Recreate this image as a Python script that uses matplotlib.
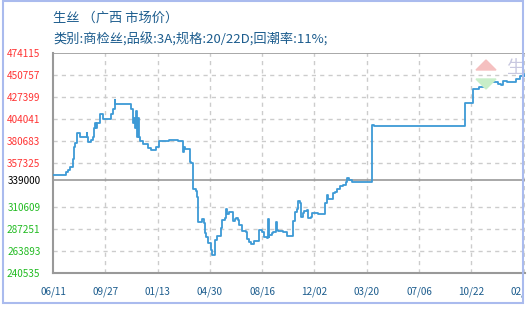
import matplotlib
matplotlib.use("Agg")
import matplotlib.pyplot as plt
from matplotlib.patches import Rectangle, Polygon
from matplotlib.transforms import Bbox, TransformedBbox

plt.rcParams['font.family'] = ['Noto Sans CJK SC', 'DejaVu Sans']

# chart data: days since 06/11 (first tick) and price
days = [0, 27, 31, 35, 42, 43, 45, 50, 56, 70,
        71, 73, 79, 82, 85, 87, 89, 90, 98, 104,
        120, 123, 128, 129, 162, 165, 168, 170, 172, 173,
        176, 178, 180, 186, 193, 197, 202, 212, 219, 240,
        258, 268, 269, 271, 273, 283, 286, 290, 295, 298,
        299, 304, 307, 312, 314, 317, 321, 326, 328, 334,
        339, 348, 350, 355, 357, 360, 364, 371, 376, 379,
        383, 385, 391, 398, 401, 405, 408, 416, 426, 432,
        436, 443, 445, 446, 447, 452, 455, 460, 462, 465,
        472, 476, 484, 496, 500, 503, 507, 510, 512, 516,
        518, 524, 527, 532, 535, 541, 548, 562, 565, 569,
        578, 582, 587, 593, 599, 605, 607, 611, 617, 659,
        664, 851, 867, 880, 893, 902, 920, 925, 930, 937,
        947, 957, 964, 975]
prices = [344300, 347500, 349900, 353400, 361300, 374000, 378900, 388900, 384600, 388900,
          384600, 379300, 381700, 384600, 394800, 399500, 394500, 399500, 409000, 403700,
          409000, 414300, 423900, 419700, 414300, 399500, 405100, 394500, 412900, 385300,
          404800, 385300, 381000, 377800, 377200, 372900, 371400, 374600, 380700, 381700,
          380700, 374000, 369300, 374000, 371900, 358700, 357000, 329400, 327600, 321500,
          295000, 294400, 297600, 293300, 282700, 279100, 272700, 265000, 259700, 275600,
          280100, 288600, 296800, 298600, 308500, 302900, 305600, 296100, 297900, 298600,
          296800, 291500, 285100, 284400, 276600, 273800, 271000, 274800, 286200, 284400,
          278400, 278000, 297600, 278800, 280900, 282700, 284400, 295000, 286200, 285100,
          285400, 284400, 279800, 296100, 305000, 308200, 317300, 314500, 300300, 304600,
          306700, 307400, 298600, 299700, 304600, 303900, 302900, 314500, 323400, 319100,
          325200, 326900, 329700, 333200, 334000, 337500, 341100, 339300, 336800, 397700,
          396900, 420700, 435600, 438300, 443600, 443000, 441700, 440100, 444900, 443600,
          443600, 446300, 450200, 451300]

y_ticks = [474115, 450757, 427399, 404041, 380683, 357325, 339000, 310609,
           287251, 263893, 240535]
x_labels = ['06/11', '09/27', '01/13', '04/30', '08/16', '12/02', '03/20',
            '07/06', '10/22', '02/07']
base_price = 339000

title1 = '生丝 （广西 市场价）'
title2 = '类别:商检丝;品级:3A;规格:20/22D;回潮率:11%;'

W, H = 530, 309
fig = plt.figure(figsize=(W / 100, H / 100), dpi=100)
ax = fig.add_axes([53 / W, 36 / H, 472 / W, 220 / H])

ax.plot(days, prices, drawstyle='steps-post', color='#3d9ad6', lw=1.3, zorder=3)

ax.set_xlim(0, 975)
ax.set_ylim(y_ticks[-1], y_ticks[0])
x_pos = [i * 108 for i in range(len(x_labels))]
ax.set_xticks(x_pos)
ax.set_xticklabels(x_labels)
ax.set_yticks(y_ticks)
ax.set_yticklabels([str(v) for v in y_ticks])

for v, lbl in zip(y_ticks, ax.get_yticklabels()):
    if v > base_price:
        lbl.set_color('#ff3333')
    elif v == base_price:
        lbl.set_color('black')
    else:
        lbl.set_color('#22bb22')
for lbl in ax.get_xticklabels():
    lbl.set_color('#1d5d8e')

ax.tick_params(axis='both', length=0, labelsize=7.2)
ax.tick_params(axis='y', pad=9)
ax.tick_params(axis='x', pad=10)

# grid
for v in y_ticks[1:]:
    if v == base_price:
        ax.axhline(v, color='#999999', lw=1.2, zorder=2)
    else:
        ax.axhline(v, color='#cccccc', lw=1, ls=(0, (3, 3)), zorder=1)
ax.axhline(y_ticks[0], color='#999999', lw=1.2, zorder=2)
for p in x_pos[1:]:
    ax.axvline(p, color='#cccccc', lw=1, ls=(0, (3, 3)), zorder=1)

for s in ['top', 'right']:
    ax.spines[s].set_visible(False)
for s in ['left', 'bottom']:
    ax.spines[s].set_color('#999999')
    ax.spines[s].set_linewidth(1.5)

# clip last x label at the frame
clip = TransformedBbox(Bbox([[0, 0], [523 / W, 1]]), fig.transFigure)
for lbl in ax.get_xticklabels():
    lbl.set_clip_box(clip)
    lbl.set_clip_on(True)

# titles
fig.text(53 / W, 1 - 18 / H, title1, color='#1d5d8e', fontsize=9.5, va='center')
fig.text(53 / W, 1 - 40 / H, title2, color='#1d5d8e', fontsize=9.5, va='center')

# faint watermark
fig.patches.append(Polygon([[476 / W, 1 - 70 / H], [496 / W, 1 - 70 / H], [486 / W, 1 - 60 / H]],
                           closed=True, transform=fig.transFigure, color='#f5c0c0', zorder=0))
fig.patches.append(Polygon([[476 / W, 1 - 79 / H], [496 / W, 1 - 79 / H], [486 / W, 1 - 89 / H]],
                           closed=True, transform=fig.transFigure, color='#c8eec8', zorder=0))
fig.text(506 / W, 1 - 68 / H, '生', color='#c8c8e0', fontsize=13, va='center')

# outer frame
fig.patches.append(Rectangle((3 / W, 1 - 303 / H), 520 / W, 302 / H, transform=fig.transFigure,
                             fill=False, edgecolor='#aabbee', lw=1.5, zorder=10))

fig.savefig('out.png', dpi=100)
